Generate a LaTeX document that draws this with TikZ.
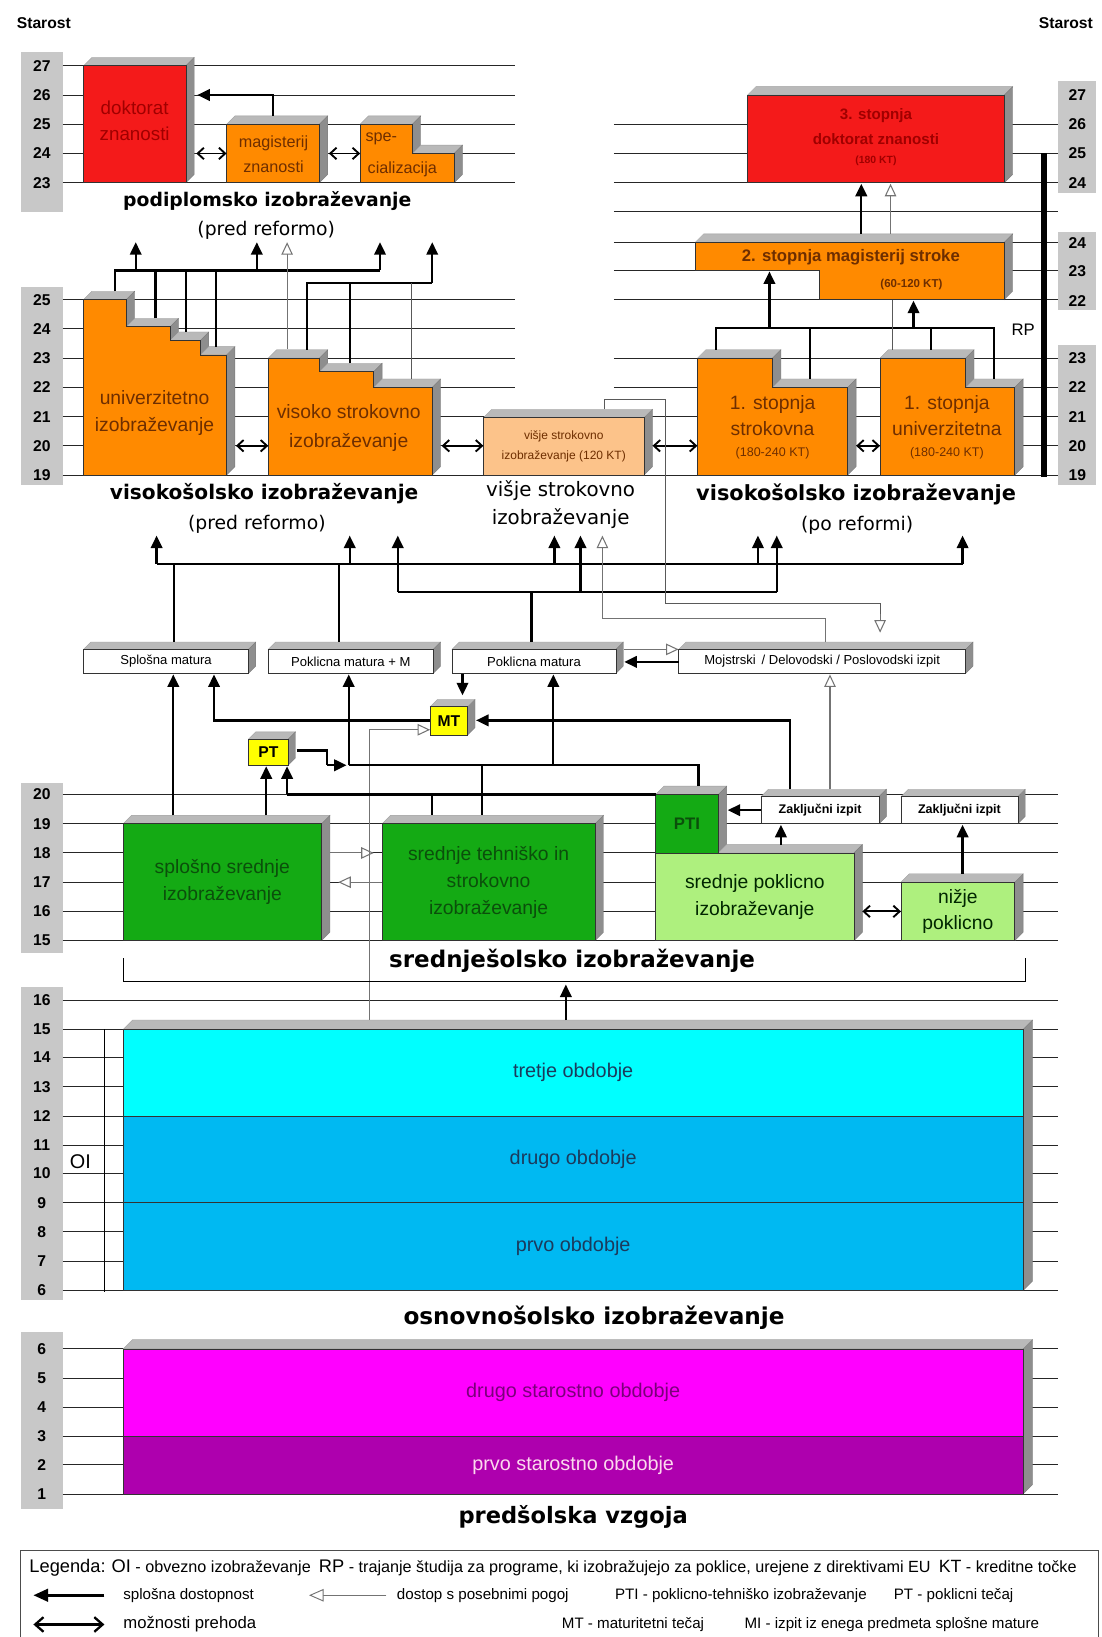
\documentclass[tikz,border=0pt]{standalone}
\usepackage{fontspec}
\setmainfont{Liberation Sans}
\newfontfamily\djv{DejaVu Sans}
\usetikzlibrary{arrows.meta}
\definecolor{barc}{HTML}{C8C8C8}
\definecolor{topc}{HTML}{B9B9B9}
\definecolor{sidec}{HTML}{8E8E8E}
\definecolor{redc}{HTML}{F41A1A}
\definecolor{redt}{HTML}{A00000}
\definecolor{orc}{HTML}{FF8A00}
\definecolor{ort}{HTML}{6E2E00}
\definecolor{lorc}{HTML}{FCC38A}
\definecolor{grc}{HTML}{14AA14}
\definecolor{grt}{HTML}{0B4F0B}
\definecolor{lgrc}{HTML}{AEF07E}
\definecolor{cyc}{HTML}{00FFFF}
\definecolor{blc}{HTML}{00B9F2}
\definecolor{blt}{HTML}{1B3A5C}
\definecolor{mgc}{HTML}{FF00FF}
\definecolor{puc}{HTML}{AE00AE}
\definecolor{pur}{HTML}{7A007A}
\definecolor{yec}{HTML}{FFFF00}
\newcommand\dd{8}
\newcommand\fs[2]{\fontsize{#1}{#2}\selectfont}
\newcommand\topf[3]{\filldraw[topface] (#1,#3) -- (#1+\dd,#3-\dd) -- (#2+\dd,#3-\dd) -- (#2,#3) -- cycle;}
\newcommand\sidef[3]{\filldraw[sideface] (#1,#2) -- (#1+\dd,#2-\dd) -- (#1+\dd,#3-\dd) -- (#1,#3) -- cycle;}
\newcommand\bx[8]{\topf{#2}{#4}{#3}\sidef{#4}{#3}{#5}\node[front, fill=#6, minimum width={#4-#2}, minimum height={#5-#3}, anchor=north west, #7] (#1) at (#2,#3) {#8};}
\tikzset{
 topface/.style={fill=topc, draw=topc!85!black, line width=0.3pt},
 sideface/.style={fill=sidec, draw=sidec!85!black, line width=0.3pt},
 front/.style={draw=black!80, line width=0.6pt, inner sep=0pt, outer sep=0pt, align=center},
 shapef/.style={draw=black!80, line width=0.6pt},
 ageline/.style={draw=black!85, line width=0.9pt},
 cl/.style={line width=2.2pt},
 ca/.style={line width=2.2pt, -{Triangle[length=12pt,width=11pt]}},
 thinl/.style={line width=1pt, draw=black!65},
 wa/.style={line width=1pt, draw=black!55, -{Triangle[length=12pt,width=11pt,fill=white]}},
 dbl/.style={line width=1.8pt, {Straight Barb[length=6pt,width=11pt]}-{Straight Barb[length=6pt,width=11pt]}},
 num/.style={font=\bfseries\fs{15}{16}, inner sep=0pt},
 hd/.style={font=\djv\bfseries\fs{#1}{#1}, inner sep=0pt},
 sub/.style={font=\djv\fs{18}{20}, inner sep=0pt},
 t/.style={inner sep=0pt, align=center},
 lg/.style={inner sep=0pt, anchor=west, font=\fs{14.5}{16}},
}
\begin{document}
\begin{tikzpicture}[x=1pt,y=-1pt]
\useasboundingbox (0,0) rectangle (1055,1568);
\fill[white] (0,0) rectangle (1055,1568);
% ---------- gray age bars ----------
\fill[barc] (20,50) rectangle (60,203);
\fill[barc] (20,275) rectangle (60,465);
\fill[barc] (20,750) rectangle (60,913);
\fill[barc] (20,945) rectangle (60,1245);
\fill[barc] (20,1276) rectangle (60,1445);
\fill[barc] (1013,78) rectangle (1050,185);
\fill[barc] (1013,222) rectangle (1050,297);
\fill[barc] (1013,330) rectangle (1050,465);
\foreach \v/\y in {27/63,26/91,25/119,24/147,23/175} \node[num] (a\v) at (40,\y) {\v};
\foreach \v/\y in {25/287,24/315,23/343,22/371,21/399,20/427,19/455} \node[num] (b\v) at (40,\y) {\v};
\foreach \v/\y in {20/761,19/789,18/817,17/845,16/873,15/901} \node[num] (c\v) at (40,\y) {\v};
\foreach \v/\y in {16/958,15/986,14/1013,13/1041,12/1069,11/1097,10/1124,9/1152,8/1180,7/1208,6/1236} \node[num] (d\v) at (40,\y) {\v};
\foreach \v/\y in {6/1292,5/1320,4/1348,3/1376,2/1403,1/1431} \node[num] (e\v) at (40,\y) {\v};
\foreach \v/\y in {27/91,26/119,25/147,24/175} \node[num] (r\v) at (1032,\y) {\v};
\foreach \v/\y in {24/233,23/260,22/288} \node[num] (s\v) at (1032,\y) {\v};
\foreach \v/\y in {23/343,22/371,21/399,20/427,19/455} \node[num] (q\v) at (1032,\y) {\v};
% ---------- age lines ----------
\foreach \y in {63,91,119,147,175,287,315,343,371,399,427,455} \draw[ageline] (60,\y) -- (493,\y);
\foreach \y in {119,147,175,203,232,259,287,343,371,399,427,455} \draw[ageline] (588,\y) -- (1013,\y);
\foreach \y in {761,789,817,845,873,901,958,986,1013,1041,1069,1097,1124,1152,1180,1208,1236,1292,1320,1348,1376,1403,1431} \draw[ageline] (60,\y) -- (1013,\y);
% ---------- podiplomsko (pred reformo) ----------
\bx{dok}{80}{63}{178}{175}{redc}{}{}
\bx{mag}{217}{119}{306}{175}{orc}{}{}
\topf{345}{395}{119}\sidef{395}{119}{147}\topf{395}{435}{147}\sidef{435}{147}{175}
\filldraw[shapef, fill=orc] (345,175) -- (345,119) -- (395,119) -- (395,147) -- (435,147) -- (435,175) -- cycle;
\node[t, text=redt, font=\fs{18}{25}] (dokt) at (129,116) {doktorat\\znanosti};
\node[t, text=ort, font=\fs{15.5}{24}] (magt) at (262,148) {magisterij\\znanosti};
\node[t, text=ort, font=\fs{15.5}{18}, anchor=west] (spe1) at (350,133) {spe-};
\node[t, text=ort, font=\fs{15.5}{18}, anchor=west] (spe2) at (352,162) {cializacija};
\draw[ca] (mag.north) ++(0,-8) |- (189,91);
\draw[dbl] (188,147) -- (mag.west |- 0,147);
\draw[dbl] (315,147) -- (345,147);
\node[hd=18] (podipl) at (256,193) {podiplomsko izobraževanje};
\node[sub] (pred1) at (255,221) {(pred reformo)};
% ---------- visokosolsko pred reformo ----------
\topf{80}{121}{287}\sidef{121}{287}{313}\topf{121}{163}{313}\sidef{163}{313}{326}\topf{163}{192}{326}\sidef{192}{326}{340}\topf{192}{217}{340}\sidef{217}{340}{455}
\filldraw[shapef, fill=orc] (80,455) -- (80,287) -- (121,287) -- (121,313) -- (163,313) -- (163,326) -- (192,326) -- (192,340) -- (217,340) -- (217,455) -- cycle;
\node[t, text=ort, font=\fs{18.5}{26}] (univ) at (148,396) {univerzitetno\\izobraževanje};
\topf{257}{306}{343}\sidef{306}{343}{356}\topf{306}{358}{356}\sidef{358}{356}{371}\topf{358}{414}{371}\sidef{414}{371}{455}
\filldraw[shapef, fill=orc] (257,455) -- (257,343) -- (306,343) -- (306,356) -- (358,356) -- (358,371) -- (414,371) -- (414,455) -- cycle;
\node[t, text=ort, font=\fs{18.5}{27}] (visok) at (334,410) {visoko strokovno\\izobraževanje};
\bx{visje}{463}{400}{617}{455}{lorc}{text=ort, font=\fs{11.5}{19}}{višje strokovno\\izobraževanje (120 KT)}
\draw[dbl] (226,427) -- (257,427);
\draw[dbl] (423,427) -- (visje.west |- 0,427);
\node[hd=19.3] (visL) at (253,473) {visokošolsko izobraževanje};
\node[sub] (pred2) at (246,502) {(pred reformo)};
\node[sub, font=\djv\fs{19}{20}] (vis1) at (537,470) {višje strokovno};
\node[sub, font=\djv\fs{19}{20}] (vis2) at (537,497) {izobraževanje};
% network above
\draw[cl] (110,279) -- (110,259) -- (364,259);
\draw[cl] (149,305) -- (149,259);
\draw[cl] (178,318) -- (178,259);
\draw[cl] (207,332) -- (207,259);
\draw[ca] (130,259) -- (130,232);
\draw[ca] (246,259) -- (246,232);
\draw[ca] (364,259) -- (364,232);
\draw[cl] (294,335) -- (294,271) -- (414,271);
\draw[cl] (335,348) -- (335,271);
\draw[thinl] (394,363) -- (394,271);
\draw[ca] (414,271) -- (414,232);
\draw[wa] (275,334) -- (275,232);
% ---------- right: po reformi ----------
\bx{tretja}{716}{91}{962}{175}{redc}{}{}
\node[t, text=redt, font=\bfseries\fs{14.5}{24}] (tr1) at (839,121) {3. stopnja\\doktorat znanosti};
\node[t, text=redt, font=\bfseries\fs{10}{12}] (tr2) at (839,154) {(180 KT)};
\topf{666}{962}{232}\sidef{962}{232}{287}
\filldraw[shapef, fill=orc] (666,232) -- (962,232) -- (962,287) -- (785,287) -- (785,259) -- (666,259) -- cycle;
\node[t, text=ort, font=\bfseries\fs{16}{18}] (druga1) at (815,246) {2. stopnja magisterij stroke};
\node[t, text=ort, font=\bfseries\fs{11}{13}] (druga2) at (873,273) {(60-120 KT)};
\draw[ca] (825,224) -- (825,176);
\draw[wa] (853,224) -- (853,176);
\draw[line width=5pt] (1000,147) -- (1000,457);
\node[t, font=\fs{16}{18}] (rp) at (980,316) {RP};
\topf{668}{740}{343}\sidef{740}{343}{371}\topf{740}{812}{371}\sidef{812}{371}{455}
\filldraw[shapef, fill=orc] (668,455) -- (668,343) -- (740,343) -- (740,371) -- (812,371) -- (812,455) -- cycle;
\topf{843}{925}{343}\sidef{925}{343}{371}\topf{925}{972}{371}\sidef{972}{371}{455}
\filldraw[shapef, fill=orc] (843,455) -- (843,343) -- (925,343) -- (925,371) -- (972,371) -- (972,455) -- cycle;
\node[t, text=ort, font=\fs{18.5}{20}] (st1a) at (740,387) {1. stopnja};
\node[t, text=ort, font=\fs{18.5}{20}] (st1b) at (740,411) {strokovna};
\node[t, text=ort, font=\fs{12}{14}] (st1c) at (740,434) {(180-240 KT)};
\node[t, text=ort, font=\fs{18.5}{20}] (un1a) at (907,387) {1. stopnja};
\node[t, text=ort, font=\fs{18.5}{20}] (un1b) at (907,411) {univerzitetna};
\node[t, text=ort, font=\fs{12}{14}] (un1c) at (907,434) {(180-240 KT)};
\draw[cl] (686,335) -- (686,314) -- (952,314) -- (952,363);
\draw[cl] (776,363) -- (776,314);
\draw[cl] (892,335) -- (892,314);
\draw[thinl] (855,335) -- (855,287);
\draw[ca] (737,314) -- (737,260);
\draw[ca] (875,314) -- (875,288);
\draw[dbl] (visje.east |- 0,427) ++(8,0) -- (668,427);
\draw[dbl] (820,427) -- (843,427);
\node[hd=20] (visR) at (820,474) {visokošolsko izobraževanje};
\node[sub] (poref) at (821,503) {(po reformi)};
% ---------- matura row ----------
\renewcommand\dd{7}
\bx{spm}{80}{622}{238}{645}{white}{font=\fs{12.5}{14}}{Splošna matura}
\bx{pmm}{257}{622}{415}{645}{white}{font=\fs{12.5}{14}}{Poklicna matura + M}
\bx{pm}{433}{622}{590}{645}{white}{font=\fs{12.5}{14}}{Poklicna matura}
\bx{moj}{650}{622}{925}{645}{white}{font=\fs{12.5}{14}}{Mojstrski \,/ Delovodski / Poslovodski izpit}
\bx{mt}{412}{677}{448}{704}{yec}{font=\bfseries\fs{15}{16}}{MT}
\bx{pt}{238}{708}{276}{733}{yec}{font=\bfseries\fs{15}{16}}{PT}
% middle network
\draw[cl] (150,540) -- (922,540);
\foreach \x in {150,335,531,726,922} \draw[ca] (\x,540) -- (\x,513);
\draw[cl] (167,540) -- (167,615);
\draw[cl] (325,540) -- (325,615);
\draw[cl] (381,567) -- (744,567);
\foreach \x in {381,556,744} \draw[ca] (\x,567) -- (\x,513);
\draw[cl] (509,567) -- (509,615);
\draw[wa] (791,615) -- (791,592) -- (577,592) -- (577,513);
\draw[thinl] (579,392) -- (579,383) -- (637,383) -- (637,578) -- (843,578) -- (843,590);
\draw[wa] (843,588) -- (843,606);
\draw[ca] (moj.west |- 0,634) -- (598,634);
\draw[wa] (598,622) -- (moj.west |- 0,622);
% ---------- secondary ----------
\renewcommand\dd{8}
\bx{splos}{118}{789}{308}{901}{grc}{text=grt, font=\fs{18.5}{26}}{splošno srednje\\izobraževanje}
\bx{teh}{366}{789}{570}{901}{grc}{text=grt, font=\fs{18.5}{26}}{srednje tehniško in\\strokovno\\izobraževanje}
\topf{628}{688}{761}\sidef{688}{761}{817}\topf{688}{818}{817}\sidef{818}{817}{901}
\node[front, fill=lgrc, minimum width=190, minimum height=84, anchor=north west, text=black!85!green, font=\fs{18.5}{26}] (spokl) at (628,817) {srednje poklicno\\izobraževanje};
\node[front, fill=grc, minimum width=60, minimum height=56, anchor=north west, text=grt, font=\bfseries\fs{16}{18}] (pti) at (628,761) {PTI};
\bx{nizje}{863}{845}{972}{901}{lgrc}{text=black!85!green, font=\fs{18.5}{25}}{nižje\\poklicno}
\renewcommand\dd{7}
\bx{zak1}{729}{763}{842}{789}{white}{font=\bfseries\fs{12}{14}}{Zaključni izpit}
\bx{zak2}{863}{763}{975}{789}{white}{font=\bfseries\fs{12}{14}}{Zaključni izpit}
\renewcommand\dd{8}
\draw[wa] (316,817) -- (358,817);
\draw[wa] (366,845) -- (324,845);
\draw[dbl] (826,873) -- (nizje.west |- 0,873);
\draw[ca] (zak1.west |- 0,776) -- (697,776);
\draw[ca] (748,809) -- (748,790);
\draw[ca] (922,837) -- (922,790);
\draw[wa] (795,756) -- (795,646);
\draw[ca] (757,756) |- (456,690);
\draw[ca] (mt.west |- 0,690) -| (205,646);
\draw[ca] (443,646) -- (443,666);
\draw[wa] (354,978) |- (mt.west |- 0,699);
\draw[ca] (166,781) -- (166,646);
\draw[cl] (284,719) -| (313,733);
\draw[ca] (313,733) -- (332,733);
\draw[cl] (334,733) -- (669,733) -- (669,753);
\draw[ca] (334,733) -- (334,646);
\draw[ca] (530,733) -- (530,646);
\draw[cl] (462,733) -- (462,781);
\draw[cl] (275,761) -- (628,761);
\draw[ca] (275,761) -- (275,734);
\draw[ca] (255,781) -- (255,734);
\draw[cl] (414,761) -- (414,781);
\draw[line width=1.3pt] (118,918) -- (118,940) -- (982,940) -- (982,918);
\node[hd=22] (sred) at (548,920) {srednješolsko izobraževanje};
% ---------- osnovnosolsko ----------
\renewcommand\dd{9}
\topf{118}{980}{986}\sidef{980}{986}{1236}
\node[front, fill=cyc, minimum width=862, minimum height=83, anchor=north west, text=blt, font=\fs{19}{22}] (tretje) at (118,986) {tretje obdobje};
\node[front, fill=blc, minimum width=862, minimum height=83, anchor=north west, text=blt, font=\fs{19}{22}] (drugo) at (118,1069) {drugo obdobje};
\node[front, fill=blc, minimum width=862, minimum height=84, anchor=north west, text=blt, font=\fs{19}{22}] (prvo) at (118,1152) {prvo obdobje};
\draw[ca] (542,977) -- (542,943);
\draw[line width=1.3pt] (100,986) -- (100,1238);
\node[t, font=\fs{19}{20}] (oi) at (77,1113) {OI};
\node[hd=22.2] (osn) at (569,1262) {osnovnošolsko izobraževanje};
% ---------- predsolska ----------
\topf{118}{980}{1292}\sidef{980}{1292}{1431}
\node[front, fill=mgc, minimum width=862, minimum height=84, anchor=north west, text=pur, font=\fs{19}{22}] (drst) at (118,1292) {drugo starostno obdobje};
\node[front, fill=puc, minimum width=862, minimum height=55, anchor=north west, text=white!85!magenta, font=\fs{19}{22}] (prst) at (118,1376) {prvo starostno obdobje};
\node[hd=21.6] (presk) at (549,1453) {predšolska vzgoja};
% ---------- headers ----------
\node[t, font=\bfseries\fs{15}{16}] (starL) at (42,22) {Starost};
\node[t, font=\bfseries\fs{15}{16}] (starR) at (1021,22) {Starost};
% ---------- legend ----------
\draw[line width=1pt, draw=black!70] (20,1575) -- (20,1485) -- (1052,1485) -- (1052,1575);
\node[lg, font=\fs{15.5}{17}] (lg1) at (28,1502) {{\fs{17.5}{18}Legenda:} {\fs{17.5}{18}OI} - obvezno izobraževanje\enspace {\fs{17.5}{18}RP} - trajanje študija za programe, ki izobražujejo za poklice, urejene z direktivami EU\enspace {\fs{17}{18}KT} - kreditne točke};
\coordinate (la1) at (100,1528);
\coordinate (la2) at (32,1528);
\draw[line width=2.5pt, -{Triangle[length=14pt,width=12pt]}] (la1) -- (la2);
\node[lg] (lg2) at (118,1528) {splošna dostopnost};
\coordinate (lw1) at (370,1528);
\coordinate (lw2) at (296,1528);
\draw[line width=0.9pt, draw=black!55, -{Triangle[length=14pt,width=12pt,fill=white]}] (lw1) -- (lw2);
\node[lg] (lg3) at (380,1528) {dostop s posebnimi pogoj};
\node[lg] (lg4) at (589,1528) {PTI - poklicno-tehniško izobraževanje};
\node[lg] (lg5) at (856,1528) {PT - poklicni tečaj};
\coordinate (ld1) at (32,1556);
\coordinate (ld2) at (100,1556);
\draw[line width=2.2pt, {Straight Barb[length=8pt,width=14pt]}-{Straight Barb[length=8pt,width=14pt]}] (ld1) -- (ld2);
\node[lg, font=\fs{16}{18}] (lg6) at (118,1556) {možnosti prehoda};
\node[lg] (lg7) at (538,1556) {MT - maturitetni tečaj};
\node[lg] (lg8) at (713,1556) {MI - izpit iz enega predmeta splošne mature};
\end{tikzpicture}
\end{document}
